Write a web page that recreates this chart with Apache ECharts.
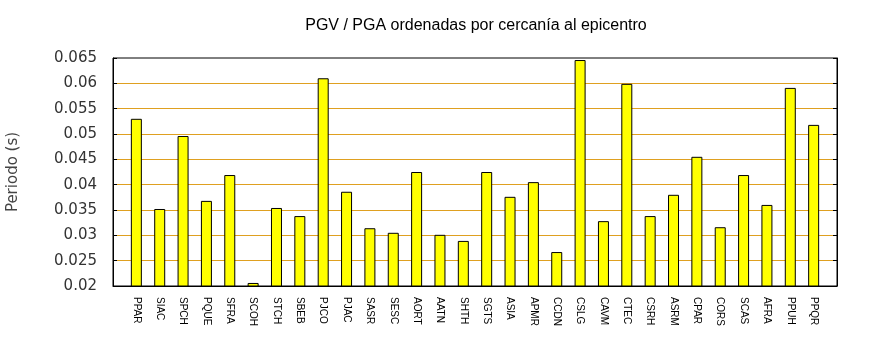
<!DOCTYPE html>
<html>
<head>
<meta charset="utf-8">
<script src="https://cdn.jsdelivr.net/npm/echarts@6/dist/echarts.min.js"></script>
<style>html,body{margin:0;padding:0;background:#fff;}#c{width:870px;height:350px;}</style>
</head>
<body>
<div id="c"></div>
<script>
const categories = ['PPAR','SIAC','SPCH','PQUE','SFRA','SCOH','STCH','SBEB','PJCO','PJAC','SASR','SESC','AORT','AATN','SHTH','SGTS','ASIA','APMR','CCDN','CSLG','CAVM','CTEC','CSRH','ASRM','CPAR','CORS','SCAS','AFRA','PPUH','PPQR'];
const values = [0.0530,0.0352,0.0496,0.0368,0.0419,0.0206,0.0354,0.0338,0.0610,0.0386,0.0314,0.0305,0.0425,0.0301,0.0289,0.0425,0.0376,0.0405,0.0267,0.0646,0.0328,0.0599,0.0338,0.0380,0.0455,0.0316,0.0419,0.0360,0.0591,0.0518];
const yTicks = [0.02,0.025,0.03,0.035,0.04,0.045,0.05,0.055,0.06,0.065];
const titleText = 'PGV / PGA ordenadas por cercanía al epicentro';
const yName = 'Periodo (s)';

const chart = echarts.init(document.getElementById('c'), null, {renderer:'canvas'});
const yMin = yTicks[0], yMax = yTicks[yTicks.length-1], yStep = 0.005;
const gridColors = yTicks.map((t,i)=> (i===0||i===yTicks.length-1) ? 'rgba(0,0,0,0)' : '#dfa020');
const fmtY = v => String(+v.toFixed(3));
const option = {
  animation: false,
  backgroundColor: '#fff',
  title: {
    text: titleText, left: 476, top: 18, padding: 0, textAlign: 'center',
    textStyle: {fontFamily: 'Liberation Sans', fontSize: 16, fontWeight: 'normal', color: '#000'}
  },
  grid: {left: 113, right: 33, top: 58, bottom: 64, containLabel: false, outerBoundsMode: 'none',
    show: true, borderColor: '#000', borderWidth: 1, backgroundColor: 'rgba(0,0,0,0)'},
  xAxis: {
    type: 'value', min: -1, max: categories.length, interval: 1,
    axisLine: {show: true, onZero: false, lineStyle: {color: '#000', width: 1}},
    axisTick: {show: false},
    splitLine: {show: false},
    axisLabel: {
      rotate: -90, margin: 11, fontFamily: 'Liberation Sans', fontSize: 10, color: '#000',
      formatter: v => (categories[v] !== undefined ? categories[v] : '')
    }
  },
  yAxis: [{
    type: 'value', min: yMin, max: yMax, interval: yStep, position: 'left',
    name: yName, nameLocation: 'middle', nameGap: 92,
    nameTextStyle: {fontFamily: 'DejaVu Sans', fontSize: 15, color: '#444'},
    axisLine: {show: true, onZero: false, lineStyle: {color: '#000'}},
    axisTick: {show: true, inside: true, length: 4, lineStyle: {color: '#000'}},
    axisLabel: {margin: 16, fontFamily: 'DejaVu Sans', fontSize: 15, color: '#333', formatter: fmtY},
    splitLine: {show: true, lineStyle: {color: gridColors, width: 1}}
  }, {
    type: 'value', min: yMin, max: yMax, interval: yStep, position: 'right',
    axisLine: {show: true, onZero: false, lineStyle: {color: '#000'}},
    axisTick: {show: true, inside: true, length: 4, lineStyle: {color: '#000'}},
    axisLabel: {show: false},
    splitLine: {show: false}
  }],
  series: [{
    type: 'bar', yAxisIndex: 0, barWidth: 11,
    itemStyle: {color: '#ffff00', borderColor: '#000', borderWidth: 1},
    data: values.map((v,i)=>[i, v])
  }]
};
chart.setOption(option);
</script>
</body>
</html>
